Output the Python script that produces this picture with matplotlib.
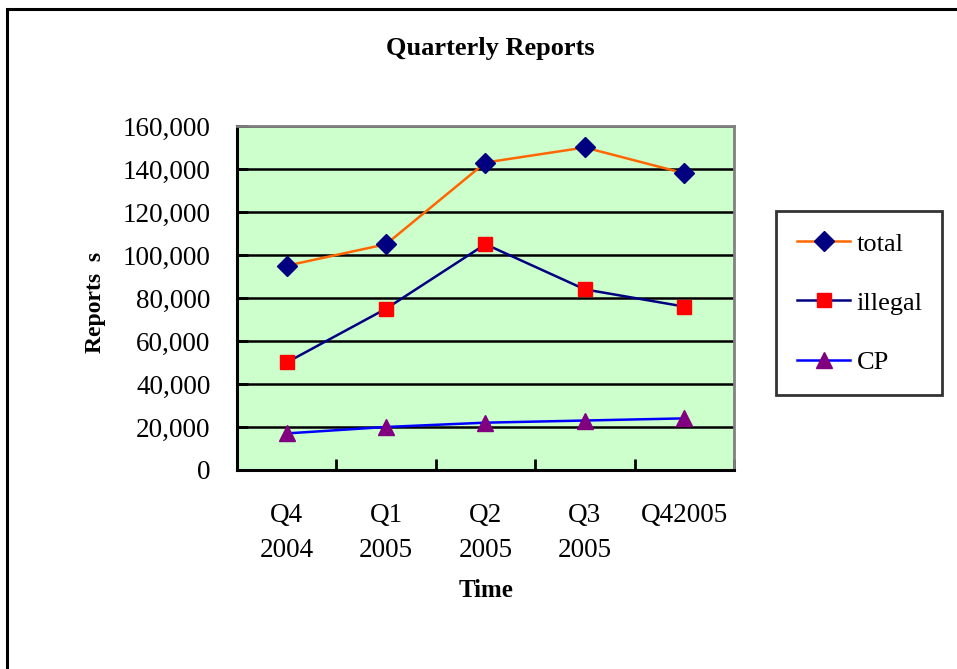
import matplotlib.pyplot as plt
from matplotlib.patches import Rectangle
from matplotlib.ticker import FuncFormatter, FixedLocator

quarters = ["Q4\n2004", "Q1\n2005", "Q2\n2005", "Q3\n2005", "Q42005"]
total = [95000, 105000, 143000, 150000, 138000]
illegal = [50000, 75000, 105000, 84000, 76000]
cp = [17000, 20000, 22000, 23000, 24000]

plt.rcParams['font.family'] = ['Liberation Serif', 'DejaVu Serif']

fig = plt.figure(figsize=(9.57, 6.69), dpi=100)
ax = fig.add_axes([0.2476, 0.2975, 0.5193, 0.5142])
ax.set_facecolor('#CCFFCC')

x = range(len(quarters))
ax.plot(x, total, '-', color='#FF6600', lw=1.8, marker='D', ms=10.5,
        mfc='#000080', mec='#000080', label='total', zorder=3)
ax.plot(x, illegal, '-', color='#000080', lw=1.8, marker='s', ms=10.5,
        mfc='#FF0000', mec='#FF0000', label='illegal', zorder=3)
ax.plot(x, cp, '-', color='#0000FF', lw=1.8, marker='^', ms=12,
        mfc='#800080', mec='#800080', label='CP', zorder=3)

ax.set_xlim(-0.5, len(quarters) - 0.5)
ax.set_ylim(0, 160000)
ax.set_yticks(range(0, 160001, 20000))
ax.yaxis.set_major_formatter(FuncFormatter(lambda v, p: f"{int(v):,}"))
ax.yaxis.grid(True, color='black', lw=1.8)
ax.set_axisbelow(True)

ax.set_xticks(list(x))
ax.set_xticklabels(quarters, fontsize=19.5, linespacing=1.5)
ax.xaxis.set_minor_locator(FixedLocator([i + 0.5 for i in range(-1, len(quarters))]))
ax.tick_params(axis='x', which='major', length=0, pad=24)
ax.tick_params(axis='x', which='minor', direction='in', length=8, width=2)
ax.tick_params(axis='y', direction='in', length=8, width=2, labelsize=19.5, pad=19)

for side in ['left', 'bottom']:
    ax.spines[side].set_linewidth(2.2)
    ax.spines[side].set_color('black')
for side in ['top', 'right']:
    ax.spines[side].set_linewidth(2)
    ax.spines[side].set_color('#808080')

fig.text(0.512, 0.928, "Quarterly Reports", ha='center', va='center',
         fontsize=19, fontweight='bold')
fig.text(0.1, 0.548, "Reports  s", ha='center', va='center', rotation=90,
         fontsize=17, fontweight='bold')
fig.text(0.508, 0.1166, "Time", ha='center', va='center',
         fontsize=18, fontweight='bold')

leg = fig.legend(loc='upper left', bbox_to_anchor=(0.811, 0.4096, 0.173, 0.275),
                 mode='expand', borderaxespad=0, fontsize=19, frameon=True,
                 fancybox=False, edgecolor='black', handlelength=2.0,
                 handletextpad=0.25, labelspacing=1.35, borderpad=0.8)
leg.get_frame().set_linewidth(2)

fig.patches.append(Rectangle((7 / 957, -0.1), 1.2, 1 - 9 / 669 + 0.1,
                             transform=fig.transFigure, fill=False,
                             edgecolor='black', lw=2.2))

fig.savefig('out.png', dpi=100)
